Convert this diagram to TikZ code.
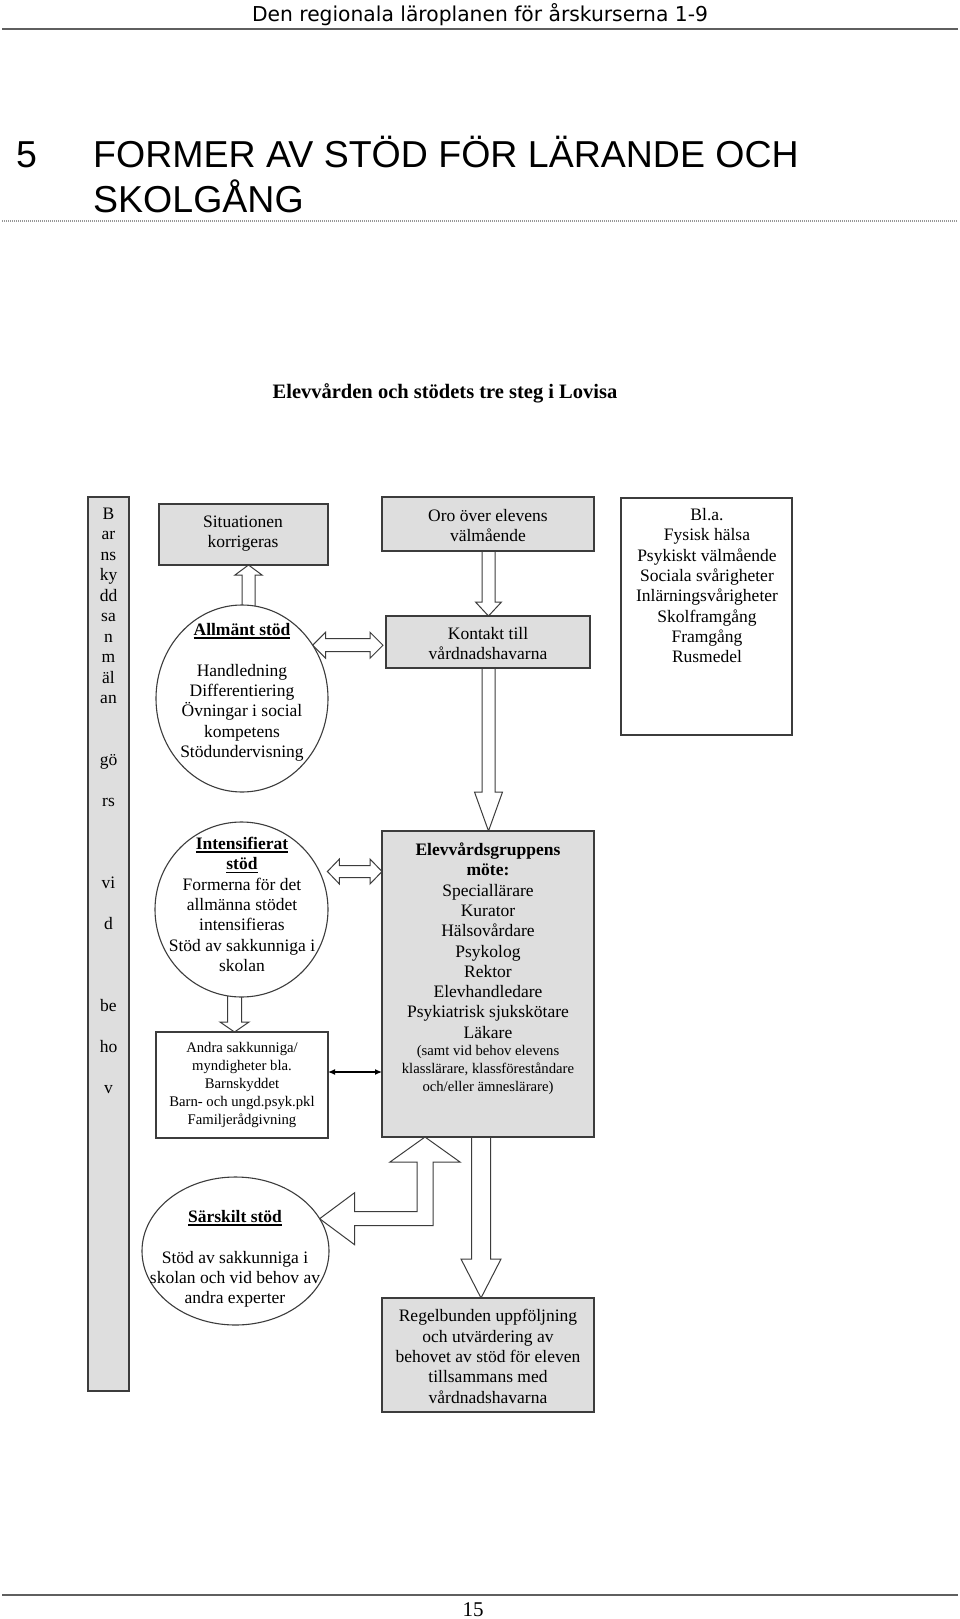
\documentclass[tikz,border=0pt]{standalone}
\usepackage{fontspec}
\setmainfont{Liberation Serif}
\newfontfamily\arialf{Liberation Sans}
\newfontfamily\hdrf{DejaVu Sans}
\usetikzlibrary{shapes.geometric,calc,arrows.meta}
\pgfdeclarelayer{bg}
\pgfsetlayers{bg,main}
\definecolor{boxgray}{RGB}{222,222,222}
\definecolor{linegray}{RGB}{60,60,60}
\definecolor{rulegray}{RGB}{95,95,95}
\definecolor{dotgray}{RGB}{150,150,150}
\newcommand\myul[1]{\setbox0=\hbox{#1}\rlap{\rule[-3pt]{\wd0}{1.1pt}}\box0}
\tikzset{
 box/.style={draw=linegray, line width=1.1pt, fill=boxgray, inner sep=0pt, outer sep=0pt},
 wbox/.style={box, fill=white},
 circ/.style={ellipse, draw=linegray, line width=1.1pt, fill=white, inner sep=0pt, outer sep=0pt},
 txt/.style={align=center, inner sep=0pt, anchor=base, font=\fontsize{17.5}{20.3}\selectfont},
 stxt/.style={align=center, inner sep=0pt, anchor=base, font=\fontsize{14.7}{18}\selectfont},
 bartxt/.style={inner sep=0pt, anchor=base, font=\fontsize{17.5}{20.3}\selectfont},
 barrow/.style={draw=linegray, line width=1pt, fill=white, line join=miter},
 hrule/.style={draw=rulegray, line width=1.8pt},
 thinarrow/.style={{Latex[length=7pt,width=6pt]}-{Latex[length=7pt,width=6pt]}, line width=1.2pt, black},
}
% vertical block arrow: start, tip, shaft half width, head half width, head length
\newcommand\vbarrow[5]{\draw[barrow] let \p1=(#1), \p2=(#2), \n1={((\y2-\y1)/abs(\y2-\y1))} in
  ({\x1-#3pt},{\y1}) -- ({\x1-#3pt},{\y2-(\n1)*#5pt}) -- ({\x1-#4pt},{\y2-(\n1)*#5pt}) -- ({\x1},{\y2})
  -- ({\x1+#4pt},{\y2-(\n1)*#5pt}) -- ({\x1+#3pt},{\y2-(\n1)*#5pt}) -- ({\x1+#3pt},{\y1}) -- cycle;}
% horizontal double block arrow: left tip, right point, shaft half width, head half width, head length
\newcommand\hdarrow[5]{\draw[barrow] let \p1=(#1), \p2=(#2) in
  ({\x1},{\y1}) -- ({\x1+#5pt},{\y1+#4pt}) -- ({\x1+#5pt},{\y1+#3pt}) -- ({\x2-#5pt},{\y1+#3pt})
  -- ({\x2-#5pt},{\y1+#4pt}) -- ({\x2},{\y1}) -- ({\x2-#5pt},{\y1-#4pt}) -- ({\x2-#5pt},{\y1-#3pt})
  -- ({\x1+#5pt},{\y1-#3pt}) -- ({\x1+#5pt},{\y1-#4pt}) -- cycle;}
\begin{document}
\begin{tikzpicture}[x=1pt,y=-1pt]
\begin{pgfonlayer}{bg}
\fill[white] (0,0) rectangle (960,1619);
\end{pgfonlayer}
\useasboundingbox (0,0) rectangle (960,1619);

% page header
\node[anchor=base, inner sep=0pt] (hdr) at (480,22)
  {\resizebox{456pt}{\height}{\hdrf\fontsize{20.5}{24}\selectfont Den regionala läroplanen för årskurserna 1-9}};
\draw[hrule] (2,29) -- (958,29);
\node[anchor=base west, inner sep=0pt, font=\arialf\fontsize{37.5}{45}\selectfont] (num) at (16,167) {5};
\node[anchor=base west, inner sep=0pt, font=\arialf\fontsize{37.5}{45}\selectfont] (t1) at (93,167) {FORMER AV STÖD FÖR LÄRANDE OCH};
\node[anchor=base west, inner sep=0pt, font=\arialf\fontsize{37.5}{45}\selectfont] (t2) at (93,212) {SKOLGÅNG};
\draw[draw=dotgray, line width=2pt, dash pattern=on 1pt off 1pt] (2,221) -- (958,221);
\node[anchor=base, inner sep=0pt, font=\fontsize{20.5}{24}\selectfont\bfseries] (sub) at (445,398) {Elevvården och stödets tre steg i Lovisa};

% boxes
\node[box, minimum width=41pt, minimum height=894pt] (bar) at (108.5,944) {};
\node[box, minimum width=169pt, minimum height=61pt] (sit) at (243.5,534.5) {};
\node[box, minimum width=212pt, minimum height=54pt] (oro) at (488,524) {};
\node[box, minimum width=204pt, minimum height=52pt] (kon) at (488,642) {};
\node[wbox, minimum width=171pt, minimum height=237pt] (bla) at (706.5,616.5) {};
\node[box, minimum width=212pt, minimum height=306pt] (elev) at (488,984) {};
\node[wbox, minimum width=172pt, minimum height=106pt] (andra) at (242,1085) {};
\node[box, minimum width=212pt, minimum height=114pt] (reg) at (488,1355) {};
\node[circ, minimum width=172pt, minimum height=187pt] (allm) at (242,698.5) {};
\node[circ, minimum width=173pt, minimum height=175pt] (inten) at (241.5,909.5) {};
\node[circ, minimum width=187pt, minimum height=148pt] (sar) at (235.5,1251) {};

% texts (anchor = baseline of the last line)
\node[txt] (sitt) at (243,547.8) {Situationen\\korrigeras};
\node[txt] (orot) at (488,541.8) {Oro över elevens\\välmående};
\node[txt] (kont) at (488,659.8) {Kontakt till\\vårdnadshavarna};
\node[txt] (blat) at (707,662.6) {Bl.a.\\Fysisk hälsa\\Psykiskt välmående\\Sociala svårigheter\\Inlärningsvårigheter\\Skolframgång\\Framgång\\Rusmedel};
\node[txt] (allmt) at (242,757.3) {\myul{\textbf{Allmänt stöd}}\\[20.3pt]Handledning\\Differentiering\\Övningar i social\\kompetens\\Stödundervisning};
\node[txt] (intent) at (242,971.3) {\myul{\textbf{Intensifierat}}\\\myul{\textbf{stöd}}\\Formerna för det\\allmänna stödet\\intensifieras\\Stöd av sakkunniga i\\skolan};
\node[stxt] (andrat) at (242,1124.5) {Andra sakkunniga/\\myndigheter bla.\\Barnskyddet\\Barn- och ungd.psyk.pkl\\Familjerådgivning};
\node[txt] (elevt) at (488,1038.2) {\textbf{Elevvårdsgruppens}\\\textbf{möte:}\\Speciallärare\\Kurator\\Hälsovårdare\\Psykolog\\Rektor\\Elevhandledare\\Psykiatrisk sjukskötare\\Läkare};
\node[stxt] (elevs) at (488,1091) {(samt vid behov elevens\\klasslärare, klassföreståndare\\och/eller ämneslärare)};
\node[txt] (sart) at (235,1303.7) {\myul{\textbf{Särskilt stöd}}\\[20.3pt]Stöd av sakkunniga i\\skolan och vid behov av\\andra experter};
\node[txt] (regt) at (488,1403) {Regelbunden uppföljning\\och utvärdering av\\behovet av stöd för eleven\\tillsammans med\\vårdnadshavarna};

% vertical text in the bar
\foreach \lt/\lk [count=\i] in {B/0,ar/1,ns/2,ky/3,dd/4,sa/5,n/6,m/7,äl/8,an/9,gö/12,rs/14,vi/18,d/20,be/24,ho/26,v/28}
  \node[bartxt] (bl\i) at (108.5,{519+20.5*\lk}) {\lt};

% connectors
\begin{pgfonlayer}{bg}
\vbarrow{$(allm.north)+(6.5,4)$}{$(sit.south)+(6.5,0)$}{6.5}{13.5}{10}
\vbarrow{$(oro.south)+(0.5,-2)$}{kon.north}{6.5}{13}{14}
\vbarrow{$(kon.south)+(0.5,-2)$}{elev.north}{6.5}{14}{39}
\vbarrow{$(inten.south)+(-7,-3)$}{$(andra.north)+(-7,0)$}{7}{14.5}{10}
\vbarrow{$(elev.south)+(-7,-2)$}{$(reg.north)+(-7,0)$}{9.5}{20}{39}
\hdarrow{allm.37}{$(kon.west)+(-3,0)$}{6.5}{13}{13}
\hdarrow{$(inten.26)+(8,0)$}{elev.west}{6}{12.5}{12}
\draw[barrow] let \p1=(sar.21), \p2=($(elev.south)+(-63,0)$) in
  ({\x1},{\y1}) -- ({\x1+35pt},{\y1+26pt}) -- ({\x1+35pt},{\y1+7pt}) -- ({\x2-8pt},{\y1+7pt})
  -- ({\x2-8pt},{\y2-25pt}) -- ({\x2-35pt},{\y2-25pt}) -- ({\x2},{\y2}) -- ({\x2+35pt},{\y2-25pt})
  -- ({\x2+8pt},{\y2-25pt}) -- ({\x2+8pt},{\y1-7pt}) -- ({\x1+35pt},{\y1-7pt}) -- ({\x1+35pt},{\y1-26pt}) -- cycle;
\end{pgfonlayer}
\coordinate (ta) at ($(andra.east)+(0,-13)$);
\draw[thinarrow] (ta) -- (ta -| elev.west);

% page footer
\draw[hrule] (2,1595) -- (958,1595);
\node[anchor=base, inner sep=0pt, font=\fontsize{21}{24}\selectfont] (pg) at (473,1616) {15};
\end{tikzpicture}
\end{document}
